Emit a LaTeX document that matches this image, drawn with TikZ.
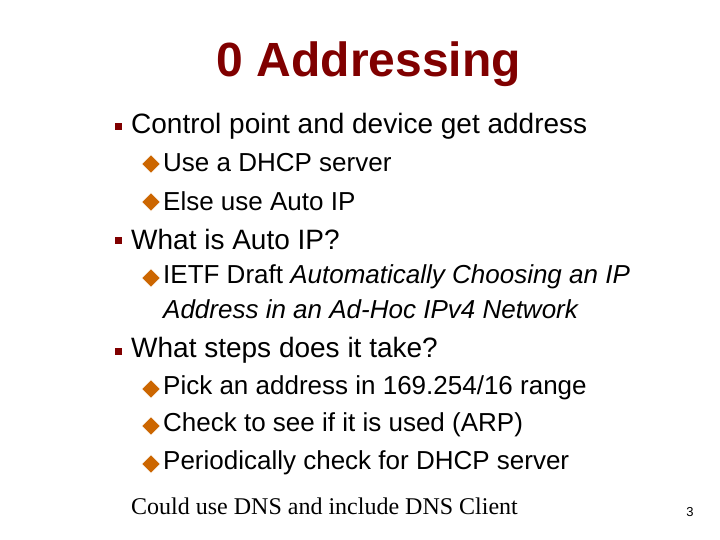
\documentclass[tikz,border=0pt]{standalone}
\usepackage{fontspec}
\setmainfont{Liberation Sans}
\newfontfamily\tnr{Liberation Serif}
\definecolor{dred}{RGB}{128,0,0}
\definecolor{dorange}{RGB}{204,102,0}
\begin{document}
\begin{tikzpicture}[x=1pt,y=-1pt,
  lvl1/.style={anchor=west,font=\fontsize{28}{31}\selectfont,inner sep=0},
  lvl2/.style={anchor=west,font=\fontsize{26}{29}\selectfont,inner sep=0},
  sq/.style={fill=dred,minimum size=7pt,inner sep=0},
  dia/.style={fill=dorange,draw=white,line width=0.4pt,minimum size=13pt,inner sep=0,rotate=45}]
\useasboundingbox (0,0) rectangle (720,540);
\node[font=\bfseries\fontsize{48}{52}\selectfont,text=dred] (t) at (369,64) {0 Addressing};
\node[sq] (b1) at (118,127) {};
\node[lvl1] (l1) at (131,126) {Control point and device get address};
\node[dia] (d1) at (151,164) {};
\node[lvl2] (s1) at (163,163) {Use a DHCP server};
\node[dia] (d2) at (151,202) {};
\node[lvl2] (s2) at (163,201) {Else use Auto IP};
\node[sq] (b2) at (118,240) {};
\node[lvl1] (l2) at (131,239) {What is Auto IP?};
\node[dia] (d3) at (151,278) {};
\node[lvl2] (s3) at (163,277) {IETF Draft \textit{Automatically Choosing an IP}};
\node[lvl2] (s3b) at (163,309) {\textit{Address in an Ad-Hoc IPv4 Network}};
\node[sq] (b3) at (118,351) {};
\node[lvl1] (l3) at (131,350) {What steps does it take?};
\node[dia] (d4) at (151,389) {};
\node[lvl2] (s4) at (163,388) {Pick an address in 169.254/16 range};
\node[dia] (d5) at (151,426) {};
\node[lvl2] (s5) at (163,425) {Check to see if it is used (ARP)};
\node[dia] (d6) at (151,464) {};
\node[lvl2] (s6) at (163,463) {Periodically check for DHCP server};
\node[anchor=west,inner sep=0,font=\tnr\fontsize{24}{27}\selectfont] (f) at (131,506) {Could use DNS and include DNS Client};
\node[font=\fontsize{13}{15}\selectfont] (p) at (690,512) {3};
\end{tikzpicture}
\end{document}
